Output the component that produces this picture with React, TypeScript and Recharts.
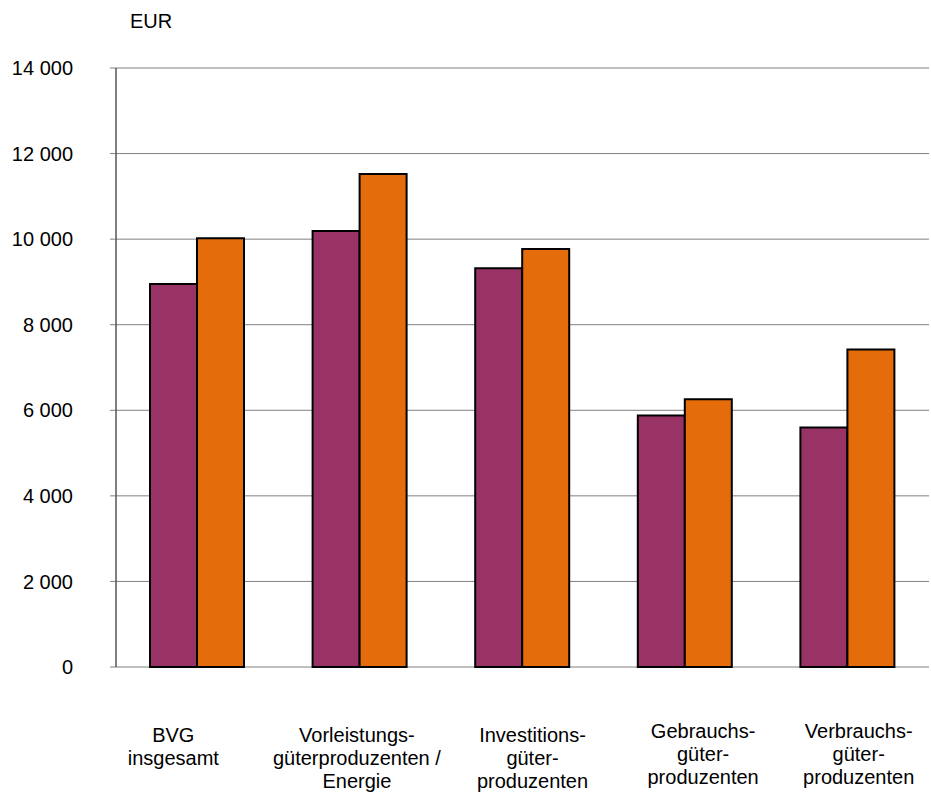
import React from 'react';
import { BarChart, Bar, XAxis, YAxis, CartesianGrid } from 'recharts';

const categories = [
  'BVG\ninsgesamt',
  'Vorleistungs-\ngüterproduzenten /\nEnergie',
  'Investitions-\ngüter-\nproduzenten',
  'Gebrauchs-\ngüter-\nproduzenten',
  'Verbrauchs-\ngüter-\nproduzenten',
];
const seriesA = [8950, 10190, 9320, 5880, 5600];
const seriesB = [10020, 11520, 9770, 6260, 7420];
const yTicks = [0, 2000, 4000, 6000, 8000, 10000, 12000, 14000];

const data = categories.map((c, i) => ({ name: c, a: seriesA[i], b: seriesB[i] }));

const FONT = 'Liberation Sans, Arial, sans-serif';

// label nudges to mimic the original placement
const labelDx = [-24, -3, 10, 18, 11];
const labelDy = [0, 0, 0, -4, -4];

const fmt = (v: number) => String(v).replace(/\B(?=(\d{3})+(?!\d))/g, ' ');

const CatTick = (props: any) => {
  const { x, y, payload, index } = props;
  const lines = String(payload.value).split('\n');
  return (
    <text
      x={x + labelDx[index]}
      y={y + 75 + labelDy[index]}
      textAnchor="middle"
      fontFamily={FONT}
      fontSize={20}
      fill="#000"
    >
      {lines.map((l, i) => (
        <tspan key={i} x={x + labelDx[index]} dy={i === 0 ? 0 : 23}>
          {l}
        </tspan>
      ))}
    </text>
  );
};

export default function App() {
  return (
    <div style={{ position: 'absolute', left: 0, top: 0, width: 931, height: 794, background: '#fff' }}>
      <div
        style={{
          position: 'absolute',
          left: 130,
          top: 10,
          fontFamily: FONT,
          fontSize: 20,
          color: '#000',
        }}
      >
        EUR
      </div>
      <BarChart
        width={931}
        height={794}
        data={data}
        margin={{ top: 68, right: 2, left: 0, bottom: 0 }}
        barGap={0}
        barSize={47}
      >
        <CartesianGrid vertical={false} stroke="#808080" strokeWidth={1} />
        <XAxis
          dataKey="name"
          axisLine={false}
          tickLine={false}
          tickSize={0}
          tickMargin={0}
          interval={0}
          tick={<CatTick />}
          height={127}
        />
        <YAxis
          domain={[0, 14000]}
          ticks={yTicks}
          width={116}
          tickFormatter={fmt}
          axisLine={{ stroke: '#000', strokeWidth: 1 }}
          tickLine={{ stroke: '#808080' }}
          tickSize={6}
          tickMargin={37}
          tick={{ fontFamily: FONT, fontSize: 20, fill: '#000' }}
        />
        <YAxis
          yAxisId="right"
          orientation="right"
          domain={[0, 14000]}
          width={0}
          tick={false}
          tickLine={false}
          axisLine={{ stroke: '#808080' }}
        />
        <Bar dataKey="a" fill="#993366" stroke="#000" strokeWidth={2} isAnimationActive={false} />
        <Bar dataKey="b" fill="#E46C0A" stroke="#000" strokeWidth={2} isAnimationActive={false} />
      </BarChart>
    </div>
  );
}
